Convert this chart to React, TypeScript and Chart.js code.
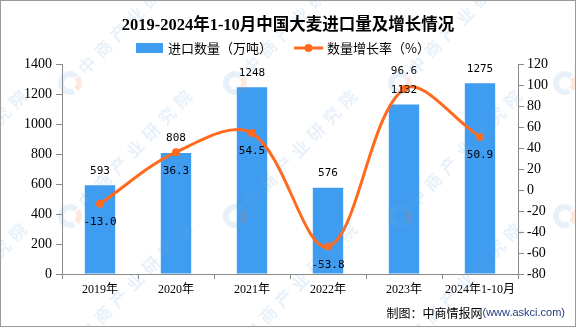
import React, { useEffect, useRef } from 'react';
import { Chart, registerables } from 'chart.js';

Chart.register(...registerables);

// ---- data ----
const chartTitle = '2019-2024年1-10月中国大麦进口量及增长情况';
const categories = ['2019年', '2020年', '2021年', '2022年', '2023年', '2024年1-10月'];
const importVolume = [593, 808, 1248, 576, 1132, 1275];
const growthRate = [-13.0, 36.3, 54.5, -53.8, 96.6, 50.9];
const barSeriesName = '进口数量（万吨）';
const lineSeriesName = '数量增长率（%）';
const footerLabel = '制图：中商情报网';
const footerSite = '(www.askci.com)';
const watermarkText = '中商产业研究院';

// ---- styles ----
const BLUE = '#3E9DF1';
const ORANGE = '#FF6A1E';
const AXIS = '#8a8a8a';
const SERIF = '"Liberation Serif", "Noto Sans CJK SC", serif';
const CJK = '"Noto Sans CJK SC", sans-serif';

const decorPlugin = {
  id: 'decor',
  beforeDraw(chart: any) {
    const { ctx, width, height } = chart;
    ctx.save();
    ctx.fillStyle = '#ffffff';
    ctx.fillRect(0, 0, width, height);
    ctx.restore();
  },
  afterDraw(chart: any) {
    const { ctx, width, height } = chart;
    ctx.save();

    // watermarks
    for (let wy = 83; wy < height + 60; wy += 133) {
      for (let wx = 70 - 165; wx < width + 60; wx += 165) {
        ctx.save();
        ctx.translate(wx, wy);
        ctx.lineWidth = 6;
        ctx.strokeStyle = 'rgba(110,165,215,0.16)';
        ctx.beginPath();
        ctx.arc(0, 0, 9, Math.PI * 0.35, Math.PI * 1.75);
        ctx.stroke();
        ctx.strokeStyle = 'rgba(240,130,80,0.18)';
        ctx.beginPath();
        ctx.arc(0, 0, 9, Math.PI * 1.8, Math.PI * 2.25);
        ctx.stroke();
        ctx.rotate((-46 * Math.PI) / 180);
        ctx.font = `bold 17px ${CJK}`;
        (ctx as any).letterSpacing = '6px';
        ctx.fillStyle = 'rgba(110,165,215,0.16)';
        ctx.textAlign = 'left';
        ctx.textBaseline = 'middle';
        ctx.fillText(watermarkText, 16, 0);
        ctx.restore();
      }
    }
    (ctx as any).letterSpacing = '0px';

    // title
    ctx.fillStyle = '#000';
    ctx.font = `bold 16.5px ${SERIF}`;
    ctx.textAlign = 'center';
    ctx.textBaseline = 'middle';
    ctx.fillText(chartTitle, width / 2, 26);

    // legend
    ctx.font = `13px ${CJK}`;
    const w1 = ctx.measureText(barSeriesName).width;
    const w2 = ctx.measureText(lineSeriesName).width;
    const total = 27 + 5 + w1 + 22 + 29 + 4 + w2;
    let x = 283 - total / 2;
    const ly = 48;
    ctx.fillStyle = BLUE;
    ctx.fillRect(x, ly - 5, 27, 10);
    x += 32;
    ctx.fillStyle = '#000';
    ctx.textAlign = 'left';
    ctx.fillText(barSeriesName, x, ly);
    x += w1 + 22;
    ctx.strokeStyle = ORANGE;
    ctx.lineWidth = 3;
    ctx.beginPath();
    ctx.moveTo(x, ly);
    ctx.lineTo(x + 29, ly);
    ctx.stroke();
    ctx.fillStyle = ORANGE;
    ctx.beginPath();
    ctx.arc(x + 14.5, ly, 4, 0, Math.PI * 2);
    ctx.fill();
    x += 33;
    ctx.fillStyle = '#000';
    ctx.fillText(lineSeriesName, x, ly);

    // footer
    ctx.font = `11px "Liberation Sans", sans-serif`;
    const ws = ctx.measureText(footerSite).width;
    ctx.textAlign = 'right';
    ctx.fillStyle = '#213D80';
    ctx.fillText(footerSite, 565, 313);
    ctx.font = `12px ${CJK}`;
    ctx.fillStyle = '#000';
    ctx.fillText(footerLabel, 565 - ws, 313);

    // frame
    ctx.strokeStyle = '#9a9a9a';
    ctx.lineWidth = 1;
    ctx.strokeRect(0.5, 0.5, width - 1, height - 1);
    ctx.restore();
  },
};

const valueLabelPlugin = {
  id: 'valueLabels',
  afterDatasetsDraw(chart: any) {
    const { ctx } = chart;
    const bars = chart.getDatasetMeta(0).data;
    const pts = chart.getDatasetMeta(1).data;
    ctx.save();
    ctx.font = '11px "DejaVu Sans Mono", monospace';
    ctx.fillStyle = '#000';
    ctx.textAlign = 'center';
    ctx.textBaseline = 'middle';
    bars.forEach((b: any, i: number) => {
      ctx.fillText(String(importVolume[i]), b.x, b.y - 14.5);
    });
    pts.forEach((p: any, i: number) => {
      const barTop = bars[i].y;
      // label goes above the point only when the point sits just above its bar's top,
      // where a label below would run into the bar's own value label
      const above = p.y < barTop - 6 && p.y > barTop - 26;
      ctx.fillText(growthRate[i].toFixed(1), p.x, above ? p.y - 17.5 : p.y + 18.5);
    });
    ctx.restore();
  },
};

export default function App() {
  const ref = useRef<HTMLCanvasElement>(null);

  useEffect(() => {
    const canvas = ref.current;
    if (!canvas) return;
    const chart = new Chart(canvas, {
      type: 'bar',
      data: {
        labels: categories,
        datasets: [
          {
            type: 'bar',
            label: barSeriesName,
            data: importVolume,
            backgroundColor: BLUE,
            borderWidth: 0,
            barPercentage: 0.4,
            categoryPercentage: 1,
            yAxisID: 'y',
            order: 1,
          },
          {
            type: 'line',
            label: lineSeriesName,
            data: growthRate,
            borderColor: ORANGE,
            backgroundColor: ORANGE,
            borderWidth: 3,
            pointRadius: 4,
            pointBackgroundColor: ORANGE,
            pointBorderWidth: 0,
            tension: 0.35,
            yAxisID: 'y1',
            order: 0,
          },
        ] as any,
      },
      options: {
        responsive: false,
        animation: false,
        layout: { padding: { top: 64.5, bottom: 25.6, left: 0, right: 0 } },
        plugins: {
          legend: { display: false },
          title: { display: false },
          tooltip: { enabled: false },
        },
        scales: {
          x: {
            offset: true,
            grid: {
              display: true,
              drawOnChartArea: false,
              drawTicks: true,
              tickLength: 5,
              offset: true,
              color: AXIS,
            },
            border: { display: true, color: AXIS },
            ticks: {
              color: '#000',
              font: { family: SERIF, size: 12 },
              padding: 4,
              maxRotation: 0,
              autoSkip: false,
            },
          },
          y: {
            position: 'left',
            min: 0,
            max: 1400,
            grid: { drawOnChartArea: false, drawTicks: true, tickLength: 6, color: AXIS },
            border: { display: true, color: AXIS },
            ticks: {
              stepSize: 200,
              color: '#000',
              font: { family: SERIF, size: 14 },
              padding: 4,
              callback: (v: any) => String(v),
            },
            afterFit(scale: any) {
              scale.width = 62;
            },
          },
          y1: {
            position: 'right',
            min: -80,
            max: 120,
            grid: { drawOnChartArea: false, drawTicks: true, tickLength: 6, color: AXIS },
            border: { display: true, color: AXIS },
            ticks: {
              stepSize: 20,
              color: '#000',
              font: { family: SERIF, size: 14 },
              padding: 3,
              callback: (v: any) => String(v),
            },
            afterFit(scale: any) {
              scale.width = 58;
            },
          },
        },
      } as any,
      plugins: [decorPlugin, valueLabelPlugin],
    });
    return () => chart.destroy();
  }, []);

  return (
    <div style={{ position: 'absolute', left: 0, top: 0, width: 576, height: 327 }}>
      <canvas ref={ref} width={576} height={327} style={{ display: 'block', width: 576, height: 327 }} />
    </div>
  );
}
